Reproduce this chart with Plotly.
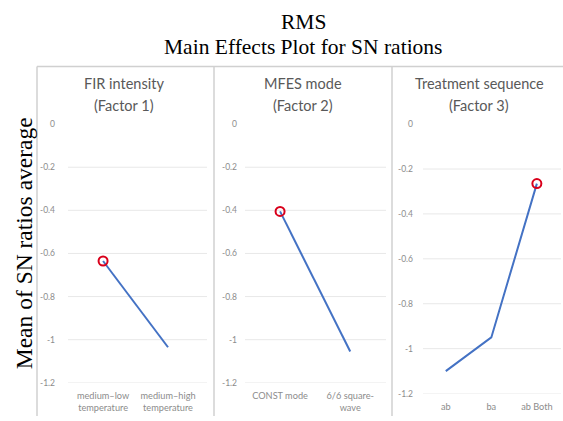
import plotly.graph_objects as go

W, H = 563, 421

# ---- data ----
f1_cats = ["medium–low<br>temperature", "medium–high<br>temperature"]
f1_vals = [-0.635, -1.035]
f2_cats = ["CONST mode", "6/6 square-<br>wave"]
f2_vals = [-0.405, -1.055]
f3_cats = ["ab", "ba", "ab Both"]
f3_vals = [-1.10, -0.95, -0.265]
panel_title_l1 = ["FIR intensity", "MFES mode", "Treatment sequence"]
panel_title_l2 = ["(Factor 1)", "(Factor 2)", "(Factor 3)"]
y_ticks = [0, -0.2, -0.4, -0.6, -0.8, -1, -1.2]
y_tick_labels = ["0", "-0.2", "-0.4", "-0.6", "-0.8", "-1", "-1.2"]
main_title_l1 = "RMS"
main_title_l2 = "Main Effects Plot for SN rations"
y_title = "Mean of SN ratios average"


def px(x):
    return x / W


def py(y):
    return 1 - y / H


LINE = "#4472C4"
RED = "#D9001B"
GRID = "#E8E8E8"
BORDER = "#D0D0D0"
TICKC = "#8C8C8C"
FONT = "Lato, Open Sans, sans-serif"
SERIF = "Liberation Serif, Times New Roman, serif"

panels = [
    dict(cats=f1_cats, vals=f1_vals, x0=68, x1=207, xr=[-0.54, 1.6], y0=122, y1=387, ystd=12),
    dict(cats=f2_cats, vals=f2_vals, x0=245, x1=386, xr=[-0.5, 1.51], y0=122, y1=387, ystd=7),
    dict(cats=f3_cats, vals=f3_vals, x0=423, x1=561, xr=[-0.5, 2.53], y0=122, y1=398, ystd=9),
]

fig = go.Figure()
layout = dict(
    width=W, height=H,
    margin=dict(l=0, r=0, t=0, b=0),
    paper_bgcolor="white", plot_bgcolor="white",
    showlegend=False,
    shapes=[], annotations=[],
)

for i, p in enumerate(panels):
    n = "" if i == 0 else str(i + 1)
    xs = list(range(len(p["cats"])))
    fig.add_trace(go.Scatter(
        x=xs, y=p["vals"], mode="lines",
        line=dict(color=LINE, width=2),
        xaxis="x" + n, yaxis="y" + n, hoverinfo="skip",
    ))
    best = max(range(len(p["vals"])), key=lambda k: p["vals"][k])
    fig.add_trace(go.Scatter(
        x=[xs[best]], y=[p["vals"][best]], mode="markers",
        marker=dict(symbol="circle-open", size=9, color=RED, line=dict(width=2, color=RED)),
        xaxis="x" + n, yaxis="y" + n, hoverinfo="skip",
    ))
    layout["xaxis" + n] = dict(
        domain=[px(p["x0"]), px(p["x1"])], range=p["xr"],
        tickvals=xs, ticktext=p["cats"], showgrid=False, zeroline=False,
        showline=False, ticks="", ticklabelstandoff=6,
        tickfont=dict(family=FONT, size=9.2, color=TICKC), anchor="y" + n,
        fixedrange=True,
    )
    layout["yaxis" + n] = dict(
        domain=[py(p["y1"]), py(p["y0"])], range=[-1.2, 0],
        tickvals=y_ticks, ticktext=y_tick_labels, showgrid=False,
        zeroline=False, showline=False, ticks="",
        ticklabelstandoff=p["ystd"],
        tickfont=dict(family=FONT, size=8.5, color=TICKC), anchor="x" + n,
        fixedrange=True,
    )
    # gridlines (skip the top 0 line)
    for v in y_ticks:
        if v == 0:
            continue
        layout["shapes"].append(dict(
            type="line", xref="x" + n + " domain", yref="y" + n,
            x0=0, x1=1, y0=v, y1=v, line=dict(color=GRID, width=1), layer="below",
        ))

# panel titles
title_centers = [124, 303, 479]
for t1, t2, cx in zip(panel_title_l1, panel_title_l2, title_centers):
    for t, cy in ((t1, 80), (t2, 103)):
        layout["annotations"].append(dict(
            text=t, x=px(cx), y=py(cy), xref="paper", yref="paper",
            xanchor="center", yanchor="middle", showarrow=False,
            font=dict(family=FONT, size=14.5, color="#595959"),
        ))

# borders
for bx in [37, 214, 392]:
    layout["shapes"].append(dict(
        type="line", xref="paper", yref="paper",
        x0=px(bx), x1=px(bx), y0=py(63), y1=0, line=dict(color=BORDER, width=1.5),
    ))
layout["shapes"].append(dict(
    type="line", xref="paper", yref="paper",
    x0=px(37), x1=1, y0=py(63), y1=py(63), line=dict(color=BORDER, width=1.5),
))

# main title
for t, cy in ((main_title_l1, 17.5), (main_title_l2, 43.5)):
    layout["annotations"].append(dict(
        text=t, x=px(303), y=py(cy), xref="paper", yref="paper",
        xanchor="center", yanchor="middle", showarrow=False,
        font=dict(family=SERIF, size=21.5, color="black"),
    ))
# y-axis title
layout["annotations"].append(dict(
    text=y_title, x=px(24), y=py(244), xref="paper", yref="paper",
    xanchor="center", yanchor="middle", showarrow=False, textangle=-90,
    font=dict(family=SERIF, size=23.5, color="black"),
))

fig.update_layout(**layout)
fig.write_html("out.html")
